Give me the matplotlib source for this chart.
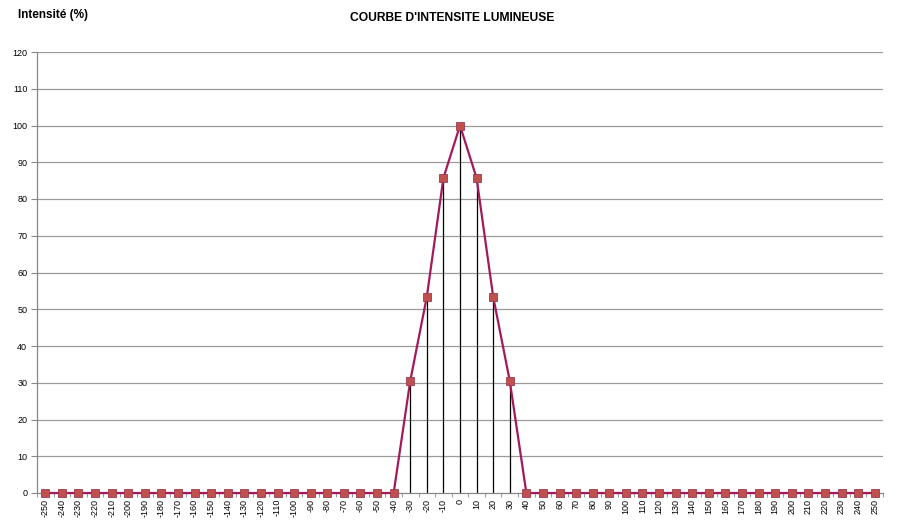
import matplotlib
matplotlib.use("Agg")
import matplotlib.pyplot as plt
import numpy as np

angles = list(range(-250, 251, 10))
nonzero = {-30: 30.5, -20: 53.4, -10: 85.7, 0: 100.0, 10: 85.7, 20: 53.4, 30: 30.5}
intensity = [nonzero.get(a, 0.0) for a in angles]
y_ticks = list(range(0, 121, 10))

plt.rcParams['font.family'] = ['Liberation Sans', 'DejaVu Sans']

fig = plt.figure(figsize=(9, 5.26), dpi=100)
ax = fig.add_axes([37/900, 1-493/526, (883-37)/900, (493-52)/526])

x = np.arange(len(angles))
ax.set_xlim(-0.5, len(angles)-0.5)
ax.set_ylim(0, 120)

for yt in y_ticks[1:]:
    ax.axhline(yt, color='#9a9a9a', lw=0.9, zorder=1)

ax.vlines(x, 0, intensity, color='black', lw=0.9, zorder=2)
ax.plot(x, intensity, color='#A3195B', lw=1.6, zorder=3, clip_on=False)
ax.plot(x, intensity, ls='none', marker='s', ms=5.8, mfc='#C0504D', mec='#9B3B52', mew=0.6,
        zorder=4, clip_on=False)

ax.set_yticks(y_ticks)
ax.set_yticklabels([str(v) for v in y_ticks], fontsize=6.5)
ax.set_xticks(x)
ax.set_xticklabels([str(a) for a in angles], rotation=90, fontsize=6.5)
ax.set_xticks(np.arange(-0.5, len(angles), 1), minor=True)
ax.tick_params(axis='x', which='major', length=0, pad=4)
ax.tick_params(axis='x', which='minor', length=3, color='#888888', direction='out')
ax.tick_params(axis='y', length=4, color='#888888', direction='out', pad=3)

for s in ['top', 'right']:
    ax.spines[s].set_visible(False)
for s in ['left', 'bottom']:
    ax.spines[s].set_color('#888888')
    ax.spines[s].set_linewidth(0.9)

fig.text(452/900, 1-18/526, "COURBE D'INTENSITE LUMINEUSE", ha='center', va='center',
         fontsize=8.7, fontweight='bold')
fig.text(18/900, 1-15/526, "Intensité (%)", ha='left', va='center', fontsize=8.5, fontweight='bold')

fig.savefig('out.png', dpi=100)
